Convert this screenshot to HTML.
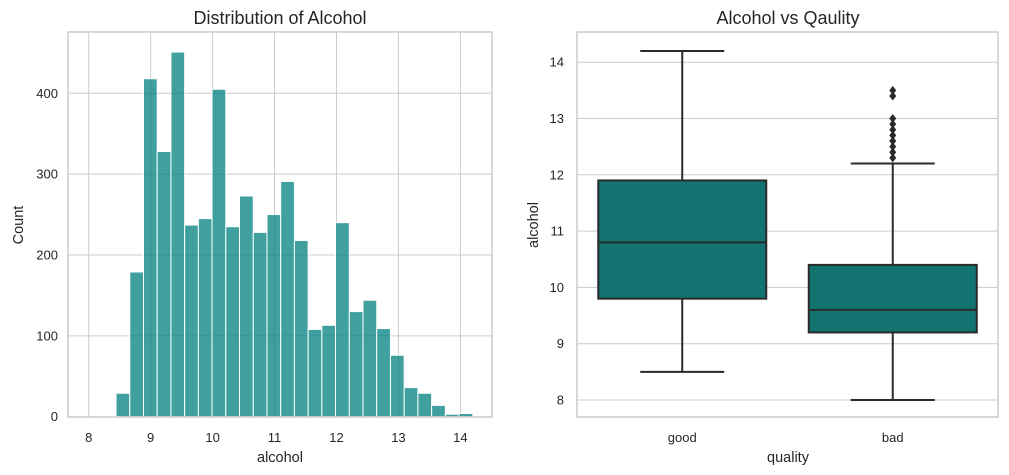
<!DOCTYPE html>
<html><head><meta charset="utf-8"><style>
body{margin:0;background:#fff;}
svg{display:block;font-family:"Liberation Sans",Arial,sans-serif;}
</style></head><body>
<svg id="c" width="1009" height="475"></svg>
<script>
const histCounts=[1,29,179,418,328,451,237,245,405,235,273,228,250,291,218,108,113,240,130,144,109,76,36,29,14,3,4];
const histBinStart=8.22, histBinEnd=14.2;
const histXTicks=[8,9,10,11,12,13,14];
const histYTicks=[0,100,200,300,400];
const boxCats=["good","bad"];
const boxWhiskLo=[8.5,8.0];
const boxQ1=[9.8,9.2];
const boxMed=[10.8,9.6];
const boxQ3=[11.9,10.4];
const boxWhiskHi=[14.2,12.2];
const badOutliers=[12.3,12.4,12.5,12.6,12.7,12.8,12.9,13.0,13.4,13.5];
const boxYTicks=[8,9,10,11,12,13,14];

const NS="http://www.w3.org/2000/svg";
const svg=document.getElementById('c');
function mk(tag,attrs,parent,txt){const e=document.createElementNS(NS,tag);for(const k in attrs)e.setAttribute(k,attrs[k]);if(txt!==undefined)e.textContent=txt;(parent||svg).appendChild(e);return e;}

// ---- left histogram ----
const L={x0:68,x1:492,y0:32,y1:417};
const hx=v=>88.7+(v-8)*61.95;
const hy=v=>416.7-v*0.8085;
const g1=mk('g',{});


histXTicks.forEach(t=>{const l=mk('line',{x1:hx(t),x2:hx(t),y1:L.y0,y2:L.y1,stroke:'#cccccc','stroke-width':1},g1);

const tx=mk('text',{x:hx(t),y:442,'text-anchor':'middle','font-size':13,fill:'#262626'},g1,String(t));
});
histYTicks.forEach(t=>{const l=mk('line',{x1:L.x0,x2:L.x1,y1:hy(t),y2:hy(t),stroke:'#cccccc','stroke-width':1},g1);

const tx=mk('text',{x:58,y:hy(t)+4.5,'text-anchor':'end','font-size':13,fill:'#262626'},g1,String(t));
});
const bw=(histBinEnd-histBinStart)/histCounts.length;
histCounts.forEach((c,i)=>{const xa=hx(histBinStart+i*bw),xb=hx(histBinStart+(i+1)*bw);
const r=mk('rect',{x:xa,y:hy(c),width:xb-xa,height:hy(0)-hy(c),fill:'rgba(0,128,128,0.75)',stroke:'#ffffff','stroke-width':1},g1);
});
const f1=mk('rect',{x:L.x0,y:L.y0,width:L.x1-L.x0,height:L.y1-L.y0,fill:'none',stroke:'#cccccc','stroke-width':1.5},g1);

let t=mk('text',{x:280,y:24,'text-anchor':'middle','font-size':18,fill:'#262626'},g1,'Distribution of Alcohol');

t=mk('text',{x:280,y:462,'text-anchor':'middle','font-size':14.5,fill:'#262626'},g1,'alcohol');

t=mk('text',{x:23,y:225,'text-anchor':'middle','font-size':14.5,fill:'#262626',transform:'rotate(-90 23 225)'},g1,'Count');


// ---- right boxplot ----
const R={x0:577,x1:998,y0:32,y1:417};
const by=v=>400-(v-8)*56.3;
const bcx=i=>R.x0+(R.x1-R.x0)*(i+0.5)/boxCats.length;
const g2=mk('g',{});


boxYTicks.forEach(v=>{const l=mk('line',{x1:R.x0,x2:R.x1,y1:by(v),y2:by(v),stroke:'#cccccc','stroke-width':1},g2);

const tx=mk('text',{x:564,y:by(v)+4.5,'text-anchor':'end','font-size':13,fill:'#262626'},g2,String(v));
});
boxCats.forEach((c,i)=>{const cx=bcx(i),hw=84;
const w=mk('line',{x1:cx,x2:cx,y1:by(boxWhiskLo[i]),y2:by(boxQ1[i]),stroke:'#2a2a2a','stroke-width':2},g2);

const w2=mk('line',{x1:cx,x2:cx,y1:by(boxQ3[i]),y2:by(boxWhiskHi[i]),stroke:'#2a2a2a','stroke-width':2},g2);

[boxWhiskLo[i],boxWhiskHi[i]].forEach(v=>{const cap=mk('line',{x1:cx-42,x2:cx+42,y1:by(v),y2:by(v),stroke:'#2a2a2a','stroke-width':2},g2);
});
const b=mk('rect',{x:cx-hw,y:by(boxQ3[i]),width:2*hw,height:by(boxQ1[i])-by(boxQ3[i]),fill:'#137370',stroke:'#2a2a2a','stroke-width':2},g2);

const m=mk('line',{x1:cx-hw,x2:cx+hw,y1:by(boxMed[i]),y2:by(boxMed[i]),stroke:'#2a2a2a','stroke-width':2},g2);

const tx=mk('text',{x:cx,y:442,'text-anchor':'middle','font-size':13,fill:'#262626'},g2,c);
});
badOutliers.forEach(v=>{const d=mk('path',{d:`M${bcx(1)} ${by(v)-4.5} L${bcx(1)+3.5} ${by(v)} L${bcx(1)} ${by(v)+4.5} L${bcx(1)-3.5} ${by(v)} Z`,fill:'#2a2a2a'},g2);
});
const f2=mk('rect',{x:R.x0,y:R.y0,width:R.x1-R.x0,height:R.y1-R.y0,fill:'none',stroke:'#cccccc','stroke-width':1.5},g2);

t=mk('text',{x:788,y:24,'text-anchor':'middle','font-size':18,fill:'#262626'},g2,'Alcohol vs Qaulity');

t=mk('text',{x:788,y:462,'text-anchor':'middle','font-size':14.5,fill:'#262626'},g2,'quality');

t=mk('text',{x:538,y:225,'text-anchor':'middle','font-size':14.5,fill:'#262626',transform:'rotate(-90 538 225)'},g2,'alcohol');

</script>
</body></html>
